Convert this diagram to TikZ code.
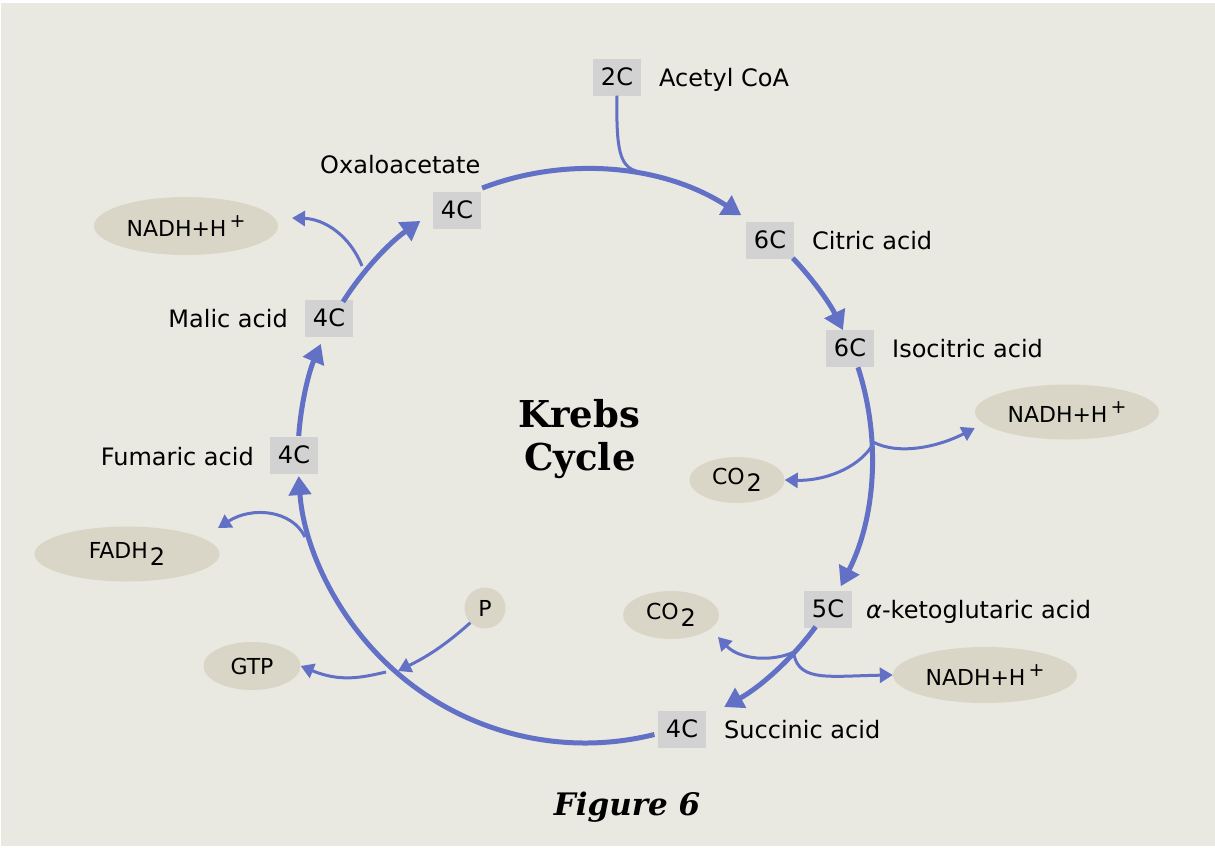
\documentclass[tikz,border=0pt]{standalone}
\usepackage{fontspec}
\newfontfamily\labfont{DejaVu Sans}
\newfontfamily\ttlfont{DejaVu Serif}
\usetikzlibrary{arrows.meta,shapes.geometric}
\definecolor{bgc}{RGB}{233,233,225}
\definecolor{boxc}{RGB}{210,210,210}
\definecolor{ellc}{RGB}{217,214,199}
\definecolor{arrc}{RGB}{98,112,198}
\tikzset{
  lab/.style={font=\labfont\fontsize{24}{28}\selectfont, inner sep=0pt, text=black},
  cbox/.style={lab, fill=boxc, minimum width=48pt, minimum height=37pt},
  ell/.style={ellipse, fill=ellc, inner sep=0pt, font=\labfont\fontsize{22}{26}\selectfont},
  mainarr/.style={draw=arrc, line width=5pt, -{Triangle[length=19pt,width=22pt]}},
  sidearr/.style={draw=arrc, line width=3pt, -{Triangle[length=13pt,width=15pt]}},
  plain/.style={draw=arrc, line width=3pt},
}
\newcommand{\suppl}{\hspace{3pt}\raisebox{0.42em}{\fontsize{19}{19}\selectfont +}}
\newcommand{\subtwo}{\hspace{2pt}\raisebox{-0.32em}{\fontsize{24}{24}\selectfont 2}}
\begin{document}
\begin{tikzpicture}[x=1pt,y=-1pt]
\useasboundingbox (0,0) rectangle (1215,847);
\fill[white] (0,0) rectangle (1215,847);
\fill[bgc] (1,3) rectangle (1215,846);

\coordinate (C) at (585,456);
\def\R{287}

% carbon boxes
\node[cbox] (acetyl) at (617,77) {2C};
\node[cbox] (citric) at (770,240) {6C};
\node[cbox] (isocit) at (850,348) {6C};
\node[cbox] (keto) at (828,609) {5C};
\node[cbox] (succ) at (682,729) {4C};
\node[cbox] (fum) at (294,455) {4C};
\node[cbox] (mal) at (329,318) {4C};
\node[cbox] (oxa) at (457,210) {4C};

% names
\node[lab, anchor=base west] (acetylT) at (659,86) {Acetyl CoA};
\node[lab, anchor=base west] (citricT) at (812,249) {Citric acid};
\node[lab, anchor=base west] (isocitT) at (892,357) {Isocitric acid};
\node[lab, anchor=base west] (ketoT) at (866,618) {{\itshape α}-ketoglutaric acid};
\node[lab, anchor=base west] (succT) at (724,738) {Succinic acid};
\node[lab, anchor=base east] (fumT) at (254,465) {Fumaric acid};
\node[lab, anchor=base east] (malT) at (288,327) {Malic acid};
\node[lab, anchor=base west] (oxaT) at (320,173) {Oxaloacetate};

% by-products
\node[ell, minimum width=184pt, minimum height=58pt] (nadh1) at (186,226) {NADH+H\suppl};
\node[ell, minimum width=184pt, minimum height=55pt] (nadh2) at (1067,412) {NADH+H\suppl};
\node[ell, minimum width=95pt, minimum height=46pt] (co2a) at (737,480) {CO\subtwo};
\node[ell, minimum width=96pt, minimum height=48pt] (co2b) at (671,615) {CO\subtwo};
\node[ell, minimum width=184pt, minimum height=56pt] (nadh3) at (985,675) {NADH+H\suppl};
\node[ell, minimum width=185pt, minimum height=55pt] (fadh) at (127,554) {FADH\subtwo};
\node[ell, minimum width=97pt, minimum height=48pt] (gtp) at (252,666) {GTP};
\node[circle, fill=ellc, inner sep=0pt, minimum size=41pt, font=\labfont\fontsize{22}{26}\selectfont] (pp) at (485,608) {P};

% title
\node[font=\ttlfont\bfseries\fontsize{37}{40}\selectfont, anchor=base, inner sep=0pt] (krebs) at (579,427) {Krebs};
\node[font=\ttlfont\bfseries\fontsize{37}{40}\selectfont, anchor=base, inner sep=0pt] (cycle) at (580,470) {Cycle};
\node[font=\ttlfont\bfseries\itshape\fontsize{31}{34}\selectfont, anchor=base, inner sep=0pt] (fig) at (627,815) {Figure 6};

% main cycle
\draw[mainarr] ([shift={(-111:\R)}]C) arc[start angle=-111, end angle=-57, radius=\R];
\draw[mainarr] ([shift={(-43.6:\R)}]C) arc[start angle=-43.6, end angle=-26, radius=\R];
\draw[mainarr] ([shift={(-18:\R)}]C) arc[start angle=-18, end angle=27, radius=\R];
\draw[mainarr] ([shift={(36.5:\R)}]C) arc[start angle=36.5, end angle=61, radius=\R];
\draw[mainarr] ([shift={(76:\R)}]C) arc[start angle=76, end angle=176, radius=\R];
\draw[mainarr] ([shift={(184:\R)}]C) arc[start angle=184, end angle=203, radius=\R];
\draw[mainarr] ([shift={(212.5:\R)}]C) arc[start angle=212.5, end angle=235, radius=\R];

% acetyl CoA entry
\draw[plain] (acetyl.south) .. controls (616,150) and (620,166) .. (636,171);

% side branches
\draw[sidearr] (873,442) .. controls (900,456) and (940,446) .. (nadh2.west |- 0,428);
\draw[sidearr] (872,446) .. controls (856,470) and (822,481) .. (co2a.east);
\draw[sidearr] (794,652) .. controls (772,662) and (740,660) .. (718,637);
\draw[sidearr] (794,655) .. controls (800,682) and (830,676) .. (nadh3.west);
\draw[sidearr] (pp.225) .. controls (440,650) and (420,660) .. (398,671);
\draw[sidearr] (386,672) .. controls (360,678) and (340,682) .. (gtp.east);
\draw[sidearr] (305,537) .. controls (292,510) and (252,506) .. (218,528);
\draw[sidearr] (362,266) .. controls (350,236) and (325,219) .. (292,218);
\end{tikzpicture}
\end{document}
